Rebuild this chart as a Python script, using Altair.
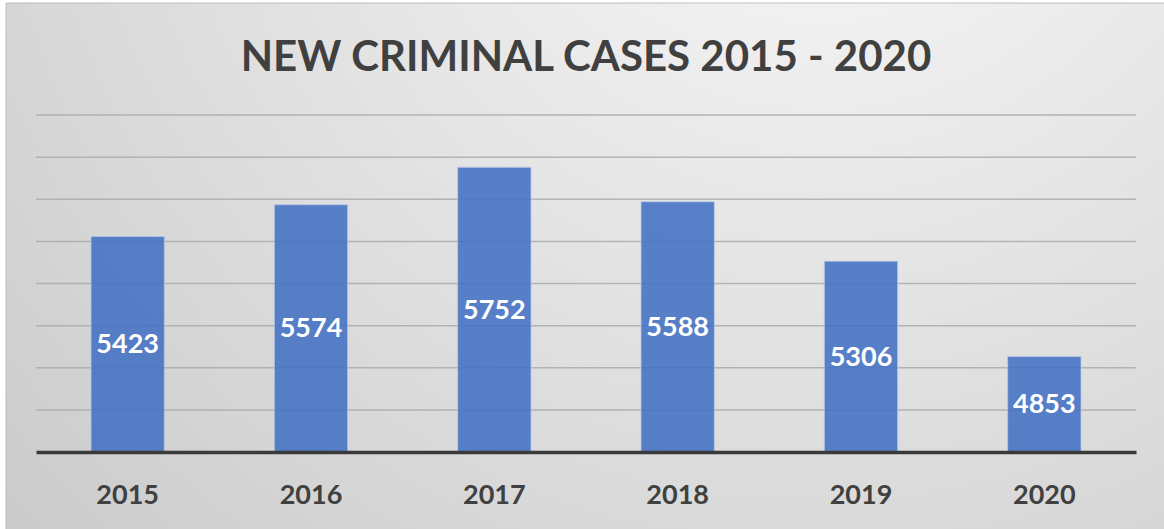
import altair as alt
import pandas as pd

title_text = "NEW CRIMINAL CASES 2015 - 2020"
years = ["2015", "2016", "2017", "2018", "2019", "2020"]
cases = [5423, 5574, 5752, 5588, 5306, 4853]
y_min = 4400
y_max = 6000
grid_values = [4600, 4800, 5000, 5200, 5400, 5600, 5800, 6000]

df = pd.DataFrame({"year": years, "cases": cases})
grid_df = pd.DataFrame({"g": grid_values})
one = pd.DataFrame({"t": [title_text]})

FONT = "Lato"
TXT = "#404040"

bg = alt.Chart(one).mark_rect(
    fill=alt.RadialGradient(
        gradient="radial",
        x1=0.7, y1=0.06, r1=0.0,
        x2=0.7, y2=0.06, r2=1.0,
        stops=[
            alt.GradientStop(color="#fbfbfb", offset=0),
            alt.GradientStop(color="#c9c9c9", offset=1),
        ],
    ),
    stroke="#bdbdbd",
    strokeWidth=1,
).encode(
    x=alt.value(-30), x2=alt.value(1130),
    y=alt.value(-112), y2=alt.value(416),
)

title = alt.Chart(one).mark_text(
    font=FONT, fontSize=42, fontWeight="bold", color=TXT,
    align="center", baseline="alphabetic",
).encode(
    x=alt.value(550), y=alt.value(-44), text="t:N",
)

yscale = alt.Scale(domain=[y_min, y_max], zero=False, nice=False)

grid = alt.Chart(grid_df).mark_rule(color="#a8a8a8", strokeWidth=1.5, opacity=0.8).encode(
    y=alt.Y("g:Q", scale=yscale, axis=None),
    x=alt.value(0), x2=alt.value(1100),
)

base = alt.Chart(df)

bars = base.mark_bar(
    color="#4472C4", opacity=0.88, stroke="#b4c7e7", strokeWidth=1, strokeOpacity=0.8
).encode(
    x=alt.X("year:N", sort=years, title=None,
            scale=alt.Scale(paddingInner=0.6, paddingOuter=0.3),
            axis=alt.Axis(labelFont=FONT, labelFontSize=27, labelFontWeight="bold",
                          labelColor=TXT, labelAngle=0, ticks=False, tickSize=0,
                          labelPadding=51, labelBaseline="alphabetic",
                          domainColor="#3a3a3a", domainWidth=3.5, grid=False, zindex=1)),
    y=alt.Y("cases:Q", title=None, scale=yscale, axis=None),
    y2=alt.datum(y_min),
)

labels = base.transform_calculate(
    mid=f"(datum.cases + {y_min}) / 2"
).mark_text(
    font=FONT, fontSize=27, fontWeight="bold", color="white", baseline="middle", dy=1
).encode(
    x=alt.X("year:N", sort=years),
    y=alt.Y("mid:Q", scale=yscale, axis=None),
    text=alt.Text("cases:Q", format="d"),
)

chart = alt.layer(bg, title, grid, bars, labels).properties(
    width=1100,
    height=337,
    padding={"left": 36, "top": 115, "right": 28, "bottom": 77},
    autosize=alt.AutoSizeParams(type="none"),
).configure(background="white").configure_view(stroke=None)

chart.save("out.html", embed_options={"renderer": "svg", "actions": False})
